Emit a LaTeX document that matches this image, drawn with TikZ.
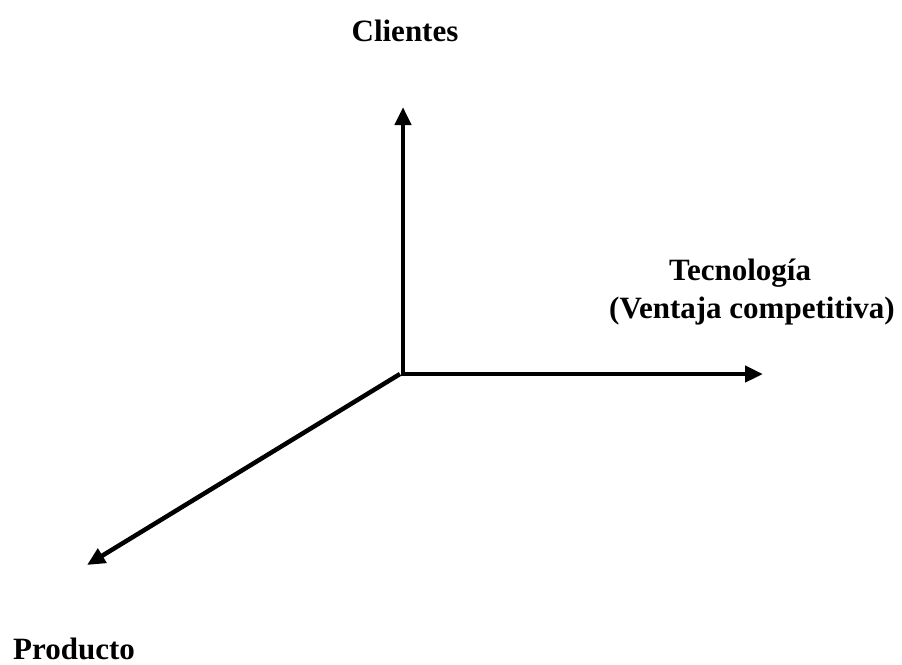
\documentclass[tikz,border=0pt]{standalone}
\usepackage{fontspec}
\setmainfont{Liberation Serif}
\usetikzlibrary{arrows.meta}
\begin{document}
\begin{tikzpicture}[x=1pt,y=-1pt,
  axis/.style={line width=4.5pt, -{Triangle[length=18pt,width=16pt]}},
  lbl/.style={font=\bfseries\fontsize{31}{36}\selectfont, inner sep=0pt, anchor=base west}]
  \useasboundingbox (0,0) rectangle (902,664);
  % origin and axis ends
  \coordinate (O) at (403,374);
  \coordinate (yend) at (403,107);
  \coordinate (xend) at (763,374);
  \coordinate (zend) at (87,565);
  % axes
  \draw[axis] ([yshift=-2pt]O) -- (yend);
  \draw[axis] ([xshift=-2pt]O) -- (xend);
  \draw[axis] ([xshift=-3pt]O) -- (zend);
  % labels
  \node[lbl, anchor=base] (clientes) at (405,41) {Clientes};
  \node[lbl] (tec) at (669,280) {Tecnología};
  \node[lbl] (ventaja) at (609,318) {(Ventaja competitiva)};
  \node[lbl] (producto) at (13,659) {Producto};
\end{tikzpicture}
\end{document}
